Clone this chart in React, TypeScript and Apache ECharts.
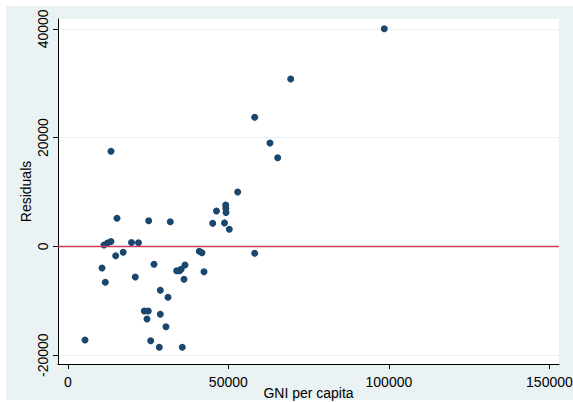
import React, { useEffect, useRef } from "react";
import * as echarts from "echarts";

const gniPerCapita: number[] = [
  13450, 15320, 25190, 31920, 46310, 45130, 49180, 49220, 49270, 48800,
  50300, 11270, 12360, 13450, 19840, 22020, 14920, 17250, 40950, 41790,
  10650, 26850, 11680, 21020, 33900, 34800, 35300, 36500, 36190, 42420,
  28810, 31210, 23820, 25070, 24670, 28810, 30580, 5360, 25820, 28500,
  35660, 98570, 69420, 58210, 62970, 65370, 52910, 58210,
];
const residuals: number[] = [
  17490, 5170, 4730, 4540, 6510, 4250, 7610, 6990, 6250, 4320,
  3140, 260, 630, 900, 720, 680, -1710, -1070, -900, -1160,
  -3970, -3290, -6600, -5630, -4470, -4470, -4210, -3420, -6050, -4650,
  -8070, -9360, -11880, -11880, -13350, -12490, -14770, -17210, -17340, -18550,
  -18550, 40030, 30780, 23760, 19010, 16310, 10000, -1270,
];
const xTicks: number[] = [0, 50000, 100000, 150000];
const yTicks: number[] = [-20000, 0, 20000, 40000];
const refLineValue = 0;
const xTitle = "GNI per capita";
const yTitle = "Residuals";

const FONT = "'Liberation Sans', Arial, sans-serif";

export default function App() {
  const ref = useRef<HTMLDivElement>(null);
  useEffect(() => {
    if (!ref.current) return;
    const chart = echarts.init(ref.current, undefined, { renderer: "svg" });
    const points = gniPerCapita.map((x, i) => [x, residuals[i]]);
    chart.setOption({
      animation: false,
      backgroundColor: "#ffffff",
      textStyle: { fontFamily: FONT },
      graphic: [
        {
          type: "rect",
          z: -10,
          shape: { x: 6, y: 6, width: 567, height: 394 },
          style: { fill: "#EAF2F3" },
          silent: true,
        },
      ],
      grid: {
        left: 58,
        top: 19,
        right: 14,
        bottom: 38,
        containLabel: false,
        outerBoundsMode: "none",
        show: true,
        backgroundColor: "#ffffff",
        borderWidth: 0,
      },
      xAxis: {
        type: "value",
        min: -3050,
        max: 152980,
        name: xTitle,
        nameLocation: "middle",
        nameGap: 22,
        nameMoveOverlap: false,
        nameTextStyle: { fontSize: 14, color: "#000", fontFamily: FONT },
        axisLine: { show: true, onZero: false, lineStyle: { color: "#000", width: 1 } },
        axisTick: { show: true, length: 5, customValues: xTicks, lineStyle: { color: "#000" } },
        axisLabel: {
          customValues: xTicks,
          fontSize: 14,
          color: "#000",
          margin: 11,
          fontFamily: FONT,
          formatter: (v: number) => String(v),
        },
        splitLine: { show: false },
      },
      yAxis: {
        type: "value",
        min: -21624,
        max: 41814,
        name: yTitle,
        nameLocation: "middle",
        nameGap: 25,
        nameRotate: 90,
        nameMoveOverlap: false,
        nameTextStyle: { fontSize: 14, color: "#000", fontFamily: FONT },
        axisLine: { show: true, onZero: false, lineStyle: { color: "#000", width: 1 } },
        axisTick: { show: true, length: 5, customValues: yTicks, lineStyle: { color: "#000" } },
        axisLabel: {
          customValues: yTicks,
          rotate: 90,
          fontSize: 14,
          color: "#000",
          margin: 8,
          fontFamily: FONT,
          formatter: (v: number) => String(v),
        },
        splitLine: { show: true, lineStyle: { color: "#EAF2F3", width: 1 } },
      },
      series: [
        {
          type: "scatter",
          data: points,
          symbol: "circle",
          symbolSize: 7,
          itemStyle: { color: "#1A476F", opacity: 1 },
          markLine: {
            silent: true,
            symbol: ["none", "none"],
            label: { show: false },
            lineStyle: { color: "#C83C5C", width: 1.3, type: "solid" },
            data: [{ yAxis: refLineValue }],
          },
        },
      ],
    });
    return () => chart.dispose();
  }, []);
  return (
    <div
      ref={ref}
      style={{ position: "absolute", left: 0, top: 0, width: 573, height: 402 }}
    />
  );
}
